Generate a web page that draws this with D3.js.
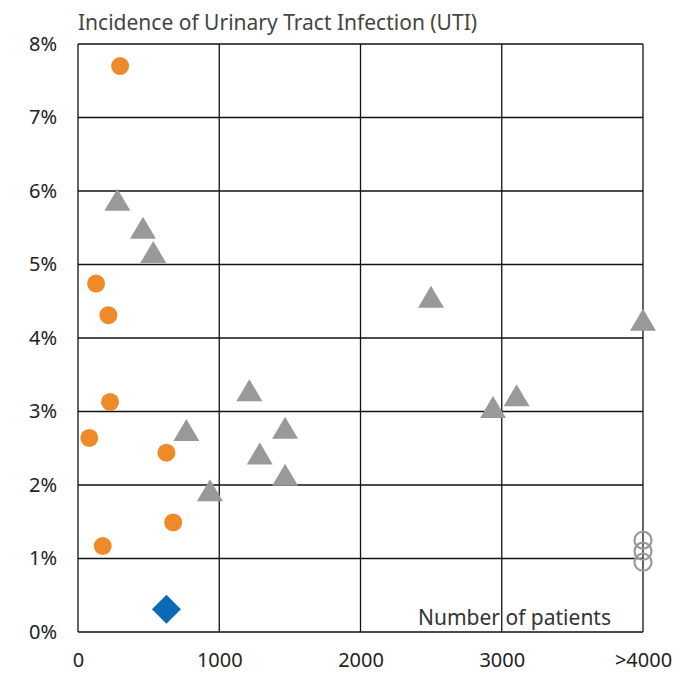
<!DOCTYPE html>
<html>
<head>
<meta charset="utf-8">
<script src="https://cdn.jsdelivr.net/npm/d3@7"></script>
<style>
  body { margin: 0; background: #fff; }
  text { font-family: "Noto Sans", Roboto, sans-serif; }
</style>
</head>
<body>
<div id="chart"></div>
<script>
// values (x = patients, y = UTI incidence in %)
var circleX   = [298, 128, 215, 227, 80, 626, 674, 175],
    circleY   = [7.70, 4.74, 4.31, 3.13, 2.64, 2.44, 1.49, 1.17];
var triX      = [279, 460, 533, 1213, 767, 1466, 1287, 1466, 934, 2499, 4000, 3105, 2938],
    triY      = [5.88, 5.50, 5.17, 3.29, 2.75, 2.78, 2.43, 2.14, 1.93, 4.56, 4.25, 3.22, 3.06];
var ringX     = [4000, 4000, 4000],
    ringY     = [1.25, 1.10, 0.95];
var diamondX  = [626],
    diamondY  = [0.31];
var xTicks    = [0, 1000, 2000, 3000, 4000],
    xLabels   = ["0", "1000", "2000", "3000", ">4000"];
var yTicks    = [0, 1, 2, 3, 4, 5, 6, 7, 8];

var margin = {top: 44, right: 54, bottom: 41, left: 78},
    width  = 697 - margin.left - margin.right,
    height = 673 - margin.top - margin.bottom;

function zip(xs, ys) {
  return xs.map(function(v, i) { return {x: v, y: ys[i]}; });
}

var x = d3.scaleLinear().domain([0, 4000]).range([0, width]);
var y = d3.scaleLinear().domain([0, 8]).range([height, 0]);

var svg = d3.select("#chart").append("svg")
    .attr("width", 697)
    .attr("height", 673)
  .append("g")
    .attr("transform", "translate(" + margin.left + "," + margin.top + ")");

// grid lines
svg.append("g")
  .selectAll("line.h")
  .data(yTicks)
  .enter().append("line")
    .attr("x1", 0).attr("x2", width)
    .attr("y1", function(d) { return y(d); })
    .attr("y2", function(d) { return y(d); })
    .attr("stroke", "#111")
    .attr("stroke-width", 1.3);

svg.append("g")
  .selectAll("line.v")
  .data(xTicks)
  .enter().append("line")
    .attr("y1", 0).attr("y2", height)
    .attr("x1", function(d) { return x(d); })
    .attr("x2", function(d) { return x(d); })
    .attr("stroke", "#111")
    .attr("stroke-width", 1.3);

// axes (labels only, grid drawn above)
var xAxis = svg.append("g")
    .attr("transform", "translate(0," + height + ")")
    .call(d3.axisBottom(x).tickValues(xTicks)
      .tickFormat(function(d, i) { return xLabels[i]; })
      .tickSize(0).tickPadding(21));

var yAxis = svg.append("g")
    .call(d3.axisLeft(y).tickValues(yTicks)
      .tickFormat(function(d) { return d + "%"; })
      .tickSize(0).tickPadding(21));

[xAxis, yAxis].forEach(function(a) {
  a.select(".domain").remove();
  a.selectAll("text")
    .attr("font-family", "\"Noto Sans\", Roboto, sans-serif")
    .attr("font-size", 20)
    .attr("fill", "#222");
});

// title and x-axis caption
svg.append("text")
    .attr("x", 0)
    .attr("y", -14)
    .attr("font-size", 21)
    .attr("fill", "#444")
    .text("Incidence of Urinary Tract Infection (UTI)");

svg.append("text")
    .attr("x", width - 32)
    .attr("y", height - 7)
    .attr("text-anchor", "end")
    .attr("font-size", 21)
    .attr("fill", "#333")
    .text("Number of patients");

// orange circles
svg.append("g")
  .selectAll("circle")
  .data(zip(circleX, circleY))
  .enter().append("circle")
    .attr("cx", function(d) { return x(d.x); })
    .attr("cy", function(d) { return y(d.y); })
    .attr("r", 9)
    .attr("fill", "#ef8a2b");

// grey triangles
svg.append("g")
  .selectAll("path")
  .data(zip(triX, triY))
  .enter().append("path")
    .attr("transform", function(d) { return "translate(" + x(d.x) + "," + y(d.y) + ")"; })
    .attr("d", "M0,-11L13,11L-13,11Z")
    .attr("fill", "#999");

// hollow grey rings at >4000
svg.append("g")
  .selectAll("circle")
  .data(zip(ringX, ringY))
  .enter().append("circle")
    .attr("cx", function(d) { return x(d.x); })
    .attr("cy", function(d) { return y(d.y); })
    .attr("r", 8.5)
    .attr("fill", "none")
    .attr("stroke", "#9a9a9a")
    .attr("stroke-width", 2.2);

// blue diamond
svg.append("g")
  .selectAll("path")
  .data(zip(diamondX, diamondY))
  .enter().append("path")
    .attr("transform", function(d) { return "translate(" + x(d.x) + "," + y(d.y) + ")"; })
    .attr("d", "M0,-14.5L14.5,0L0,14.5L-14.5,0Z")
    .attr("fill", "#0a6bb5");
</script>
</body>
</html>
